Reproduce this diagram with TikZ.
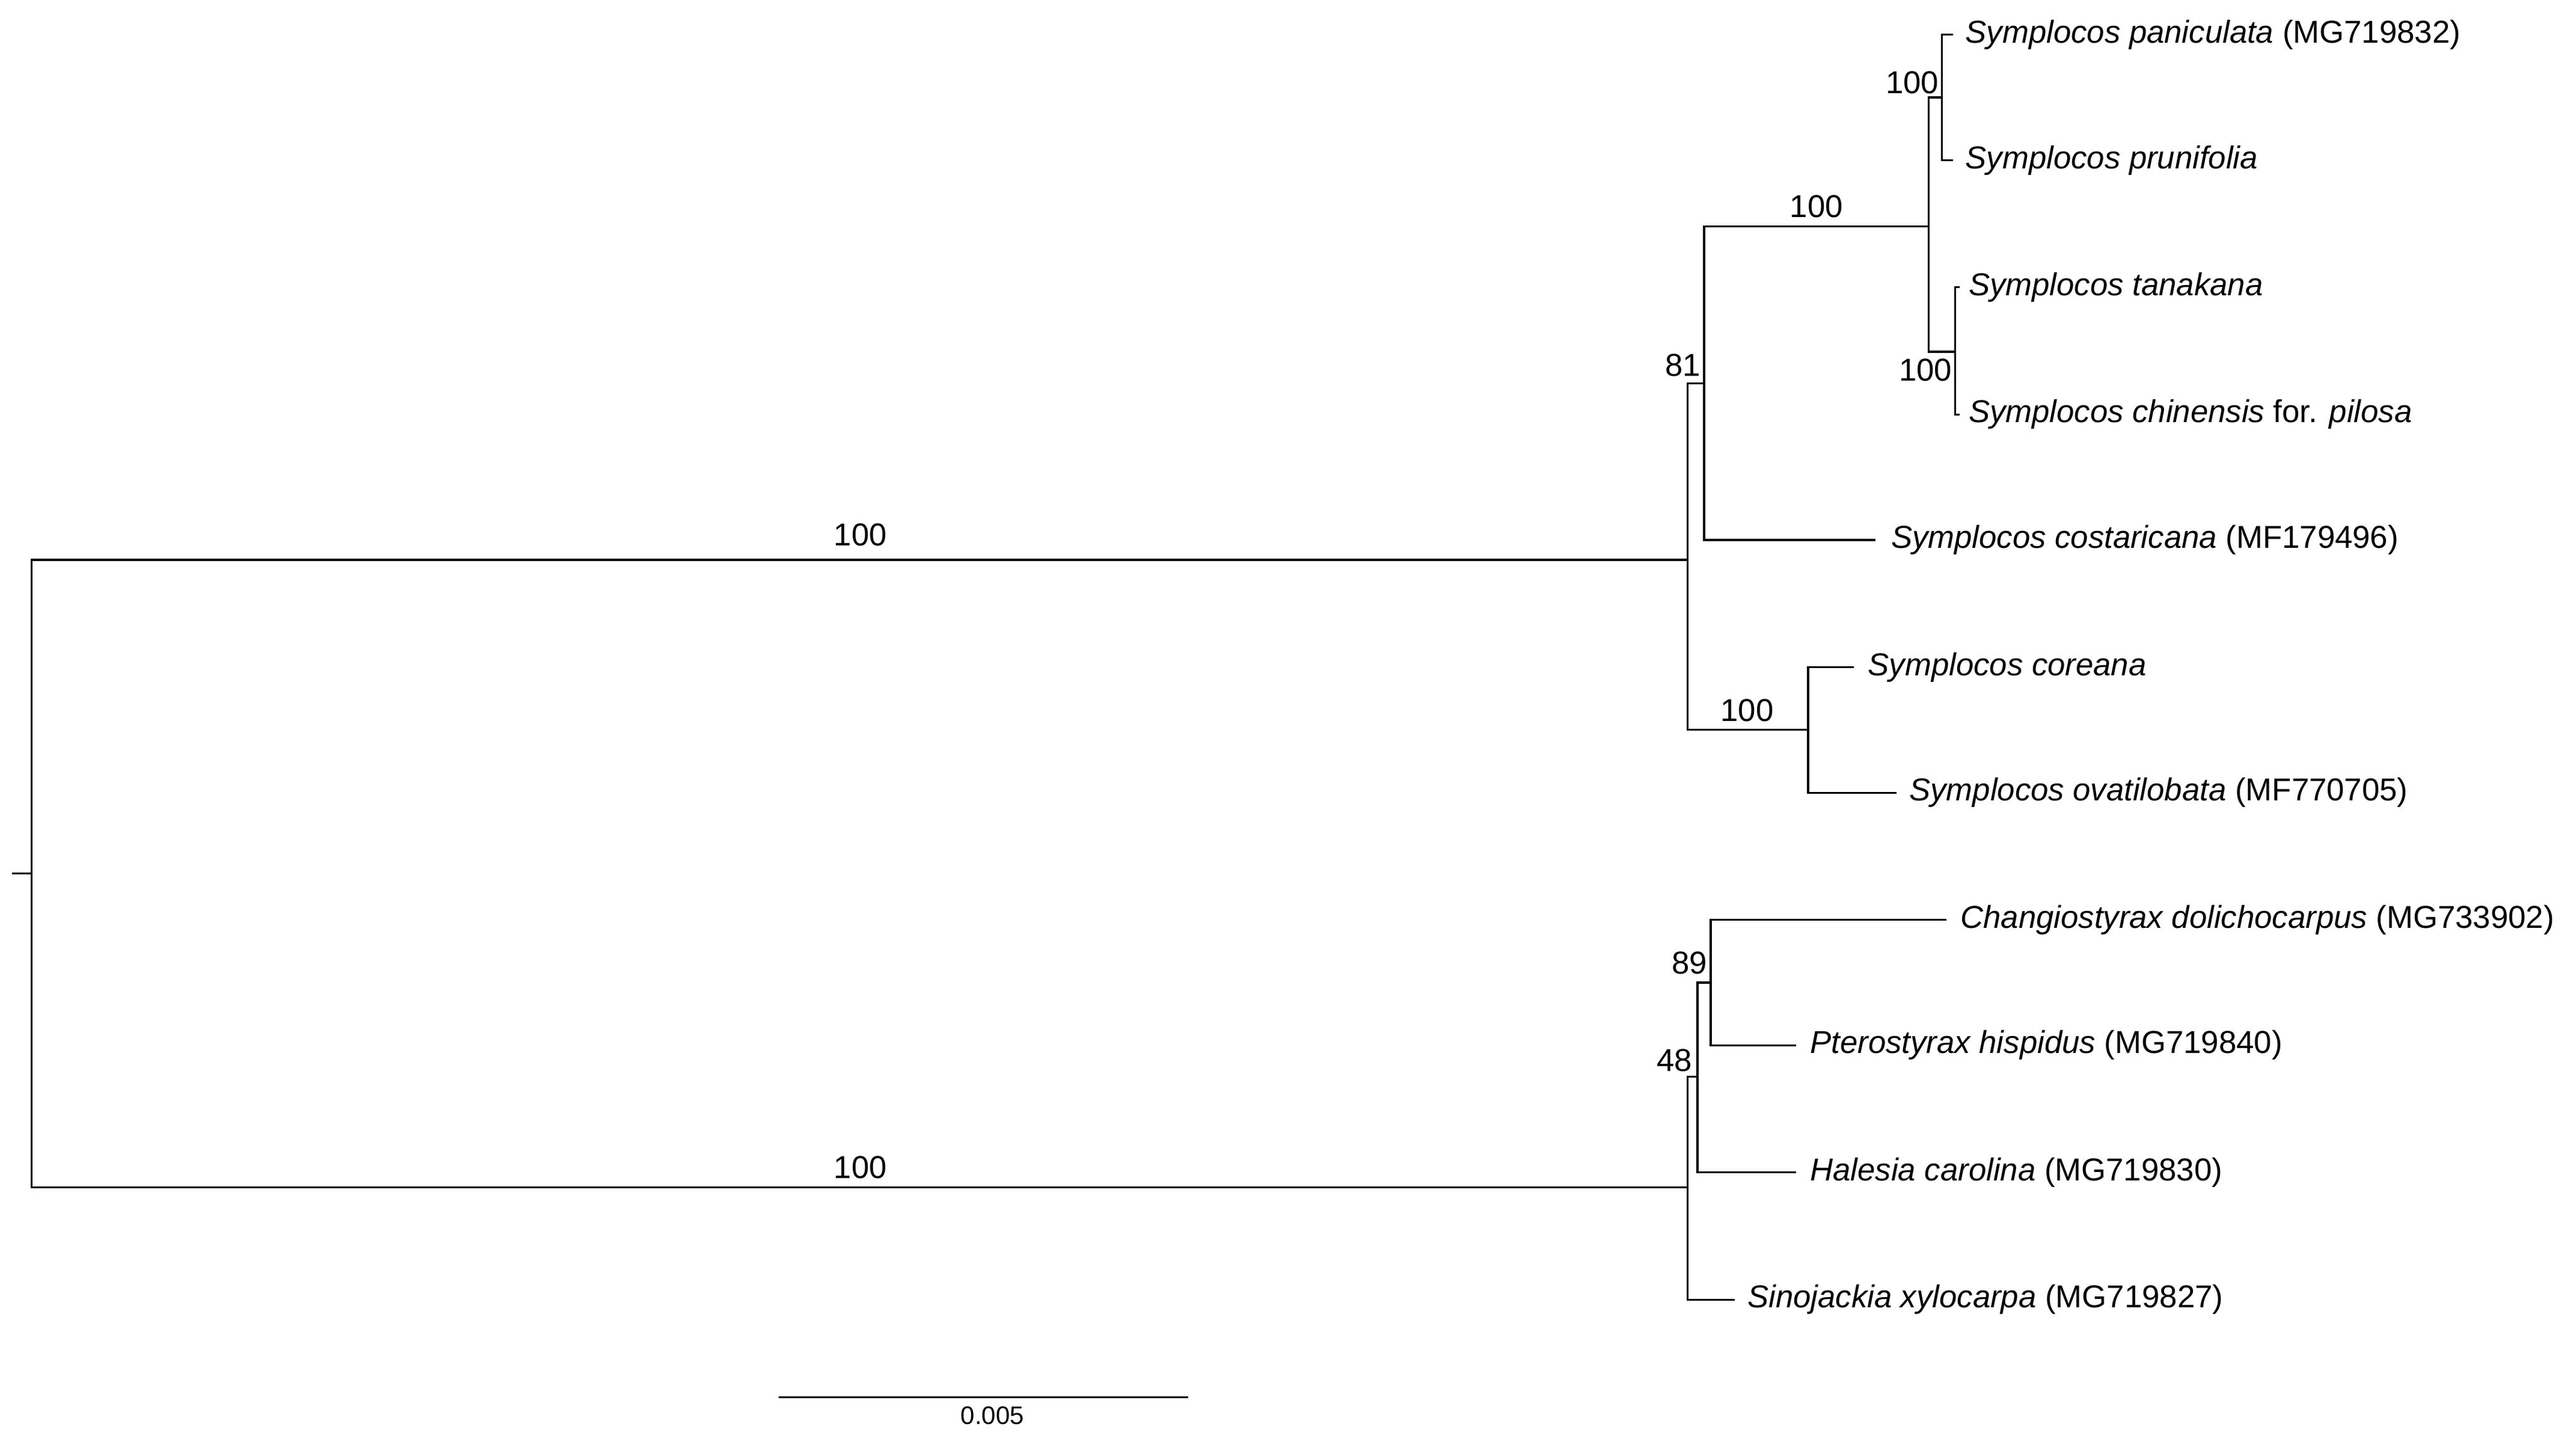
\documentclass[tikz,border=0pt]{standalone}
\usepackage{fontspec}
\setmainfont{Liberation Sans}
\begin{document}
\begin{tikzpicture}[x=0.02746cm,y=-0.02746cm,
  br/.style={line width=0.9pt,line cap=rect},
  tip/.style={anchor=west,inner sep=0pt,font=\fontsize{15}{15}\selectfont},
  bs/.style={inner sep=0pt,font=\fontsize{15}{15}\selectfont}]
\useasboundingbox (0,0) rectangle (1560,867.4);
% nodes (coordinates)
\coordinate (R) at (19,529);
\coordinate (U) at (1022,339);
\coordinate (L) at (1022,719);
\coordinate (N81) at (1032,232);
\coordinate (N100a) at (1168,137);
\coordinate (N100b) at (1176,59);
\coordinate (N100c) at (1184,213);
\coordinate (N100d) at (1095,442);
\coordinate (N48) at (1028,652);
\coordinate (N89) at (1036,595);
% tips
\node[tip] (t1) at (1190,21) {\textit{Symplocos paniculata} (MG719832)};
\node[tip] (t2) at (1190,97) {\textit{Symplocos prunifolia}};
\node[tip] (t3) at (1192,174) {\textit{Symplocos tanakana}};
\node[tip] (t4) at (1192,251) {\textit{Symplocos chinensis} for. \textit{pilosa}};
\node[tip] (t5) at (1145,327) {\textit{Symplocos costaricana} (MF179496)};
\node[tip] (t6) at (1131,404) {\textit{Symplocos coreana}};
\node[tip] (t7) at (1156,480) {\textit{Symplocos ovatilobata} (MF770705)};
\node[tip] (t8) at (1187,557) {\textit{Changiostyrax dolichocarpus} (MG733902)};
\node[tip] (t9) at (1096,633) {\textit{Pterostyrax hispidus} (MG719840)};
\node[tip] (t10) at (1096,710) {\textit{Halesia carolina} (MG719830)};
\node[tip] (t11) at (1058,787) {\textit{Sinojackia xylocarpa} (MG719827)};
% branches
\draw[br] (8,529) -- (R);
\draw[br] (19,339) -- (19,719);
\draw[br] (19,339) -- (U);
\draw[br] (19,719) -- (L);
\draw[br] (1022,232) -- (1022,442);
\draw[br] (1022,232) -- (N81);
\draw[br] (1022,442) -- (N100d);
\draw[br] (1032,137) -- (1032,327);
\draw[br] (1032,137) -- (N100a);
\draw[br] (1032,327) -- (1135,327);
\draw[br] (1168,59) -- (1168,213);
\draw[br] (1168,59) -- (N100b);
\draw[br] (1168,213) -- (N100c);
\draw[br] (1176,21) -- (1176,97);
\draw[br] (1176,21) -- (1182,21);
\draw[br] (1176,97) -- (1182,97);
\draw[br] (1184,174) -- (1184,251);
\draw[br] (1184,174) -- (1186,174);
\draw[br] (1184,251) -- (1186,251);
\draw[br] (1095,404) -- (1095,480);
\draw[br] (1095,404) -- (1122,404);
\draw[br] (1095,480) -- (1148,480);
\draw[br] (1022,652) -- (1022,787);
\draw[br] (1022,652) -- (N48);
\draw[br] (1022,787) -- (1050,787);
\draw[br] (1028,595) -- (1028,710);
\draw[br] (1028,595) -- (N89);
\draw[br] (1028,710) -- (1087,710);
\draw[br] (1036,557) -- (1036,633);
\draw[br] (1036,557) -- (1178,557);
\draw[br] (1036,633) -- (1087,633);
% bootstrap
\node[bs] (b1) at (521,324) {100};
\node[bs] (b2) at (521,707) {100};
\node[bs] (b3) at (1019,221) {81};
\node[bs] (b4) at (1100,125) {100};
\node[bs] (b5) at (1158,50) {100};
\node[bs] (b6) at (1166,224) {100};
\node[bs] (b7) at (1058,430) {100};
\node[bs] (b8) at (1023,583) {89};
\node[bs] (b9) at (1014,642) {48};
% scale bar
\coordinate (s1) at (472,846);
\coordinate (s2) at (719,846);
\draw[br] (s1) -- (s2);
\node[inner sep=0pt,font=\fontsize{12}{12}\selectfont] (sl) at (601,857) {0.005};
\end{tikzpicture}
\end{document}
